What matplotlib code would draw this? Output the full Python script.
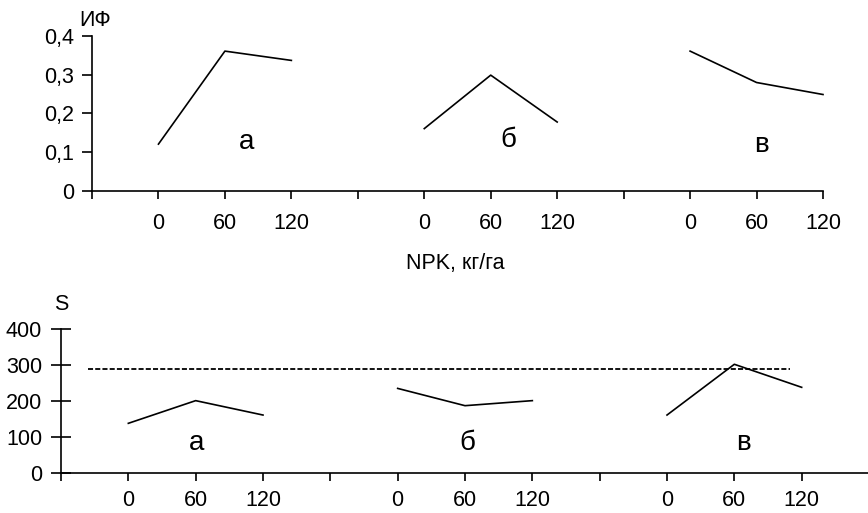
import matplotlib
matplotlib.use("Agg")
import matplotlib.pyplot as plt

plt.rcParams['font.family'] = ['Liberation Sans', 'DejaVu Sans']

# doses of NPK, kg/ha, repeated for each variant
doses = ['0', '60', '120']
variants = ['а', 'б', 'в']

# index of photosynthesis (top panel)
if_a = [0.121, 0.361, 0.337]
if_b = [0.161, 0.299, 0.178]
if_v = [0.361, 0.280, 0.249]

# S (bottom panel)
s_a = [138, 201, 161]
s_b = [235, 187, 201]
s_v = [161, 302, 238]
s_level = 289

top_ticks = ['0', '0,1', '0,2', '0,3', '0,4']
bottom_ticks = ['0', '100', '200', '300', '400']

# category positions: group k sits at 4k+1 .. 4k+3
positions = [[4 * k + 1 + i for i in range(3)] for k in range(3)]
xlabels = [''] + (doses + [''])*3

fig = plt.figure(figsize=(8.68, 5.13), dpi=100)

def style_axes(ax, yin=False, xpad=10):
    for side in ['top', 'right']:
        ax.spines[side].set_visible(False)
    for side in ['left', 'bottom']:
        ax.spines[side].set_linewidth(1.2)
    ax.tick_params(axis='x', direction='out', length=6, width=1.2, pad=xpad, labelsize=15.5)
    ax.tick_params(axis='y', direction='inout' if yin else 'out',
                   length=15 if yin else 7, width=1.2, pad=6, labelsize=15.5)

# top panel
ax1 = fig.add_axes([92/868, 1 - 191/513, 731/868, 155/513])
for xs, ys in zip(positions, [if_a, if_b, if_v]):
    ax1.plot(xs, ys, color='black', lw=1.2, clip_on=False)
ax1.set_xlim(0, 11)
ax1.set_ylim(0, 0.4)
ax1.set_xticks(range(12))
ax1.set_xticklabels(xlabels[:12])
ax1.set_yticks([0, 0.1, 0.2, 0.3, 0.4])
ax1.set_yticklabels(top_ticks)
style_axes(ax1)
for lab, x, y in zip(variants, [2.33, 6.27, 10.08], [0.126, 0.132, 0.119]):
    ax1.text(x, y, lab, fontsize=20, ha='center', va='center')
ax1.text(0.004, 1.10, 'ИФ', transform=ax1.transAxes, fontsize=15.5, ha='center', va='center')

fig.text(455/868, 1 - 263/513, 'NPK, кг/га', fontsize=15.5, ha='center', va='center')

# bottom panel
ax2 = fig.add_axes([61/868, 1 - 473/513, 808/868, 144/513])
for xs, ys in zip(positions, [s_a, s_b, s_v]):
    ax2.plot(xs, ys, color='black', lw=1.2, clip_on=False)
ax2.axhline(s_level, xmin=0.4/12, xmax=10.83/12, color='black', lw=1.3,
            linestyle=(0, (2.8, 1.2)))
ax2.set_xlim(0, 12)
ax2.set_ylim(0, 400)
ax2.set_xticks(range(12))
ax2.set_xticklabels(xlabels[:12])
ax2.set_yticks([0, 100, 200, 300, 400])
ax2.set_yticklabels(bottom_ticks)
style_axes(ax2, yin=True, xpad=6)
for lab, x in zip(variants, [2.02, 6.03, 10.13]):
    ax2.text(x, 83, lab, fontsize=20, ha='center', va='center')
ax2.text(0.0, 1.17, 'S', transform=ax2.transAxes, fontsize=15.5, ha='center', va='center')

fig.savefig('out.png', dpi=100)
